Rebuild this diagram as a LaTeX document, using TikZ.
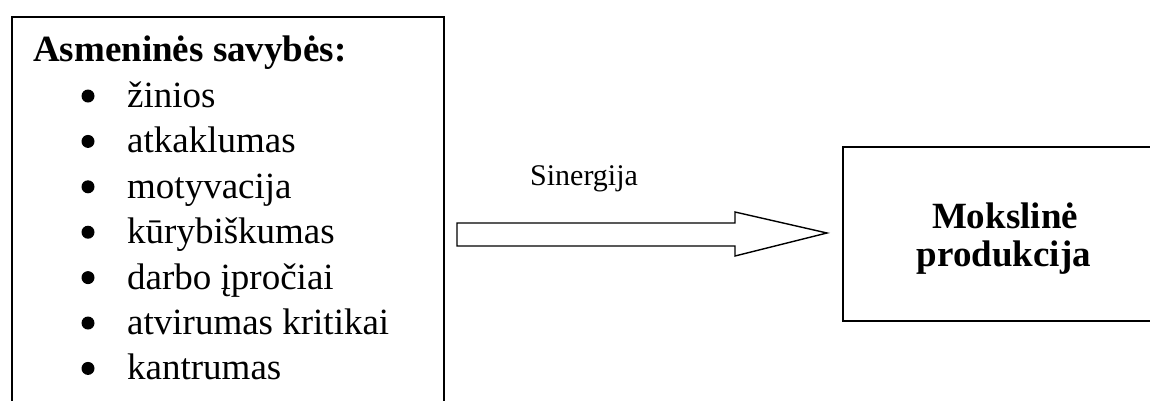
\documentclass[tikz,border=0pt]{standalone}
\usepackage{fontspec}
\setmainfont{Liberation Serif}
\begin{document}
\begin{tikzpicture}[x=1pt,y=-1pt,
  frame/.style={draw=black,line width=1.6pt,fill=none},
  title/.style={anchor=base west,inner sep=0pt,font=\fontsize{37}{44}\selectfont\bfseries},
  item/.style={anchor=base west,inner sep=0pt,font=\fontsize{37}{44}\selectfont},
  rtext/.style={anchor=base,inner sep=0pt,font=\fontsize{37}{41}\selectfont\bfseries},
  dot/.style={circle,fill=black,inner sep=0pt,minimum size=13pt},
  blockarrow/.style={draw=black,line width=1.4pt,line join=miter}]
\useasboundingbox (0,0) rectangle (1150,400);
\clip (0,0) rectangle (1150,400);
\fill[white] (0,0) rectangle (1150,400);
% left box
\node[frame,minimum width=432pt,minimum height=420pt,anchor=north west,inner sep=0pt] (left) at (11,16) {};
\node[title] (t) at (33,61) {Asmeninės savybės:};
\foreach \y/\txt/\n in {107.5/žinios/a,152.9/atkaklumas/b,198.3/motyvacija/c,243.7/kūrybiškumas/d,289.1/darbo įpročiai/e,334.5/atvirumas kritikai/f,379.9/kantrumas/g}{
  \node[dot] (d\n) at (88,\y-11.5) {};
  \node[item] (i\n) at (127,\y) {\txt};
}
% right box
\node[frame,minimum width=330pt,minimum height=174pt,anchor=north west,inner sep=0pt] (right) at (842,146) {};
\node[rtext] (r1) at (1005,228) {Mokslinė};
\node[rtext] (r2) at (1004,266) {produkcija};
% block arrow
\coordinate (s) at (457,234.5);
\coordinate (e) at (827,233);
\draw[blockarrow] (s)++(0,-11.5) -- (735,223) -- (735,212) -- (e) -- (735,256) -- (735,246) -- (457,246) -- cycle;
\node[anchor=base west,inner sep=0pt,font=\fontsize{30}{36}\selectfont] (syn) at (530,185) {Sinergija};
\end{tikzpicture}
\end{document}
